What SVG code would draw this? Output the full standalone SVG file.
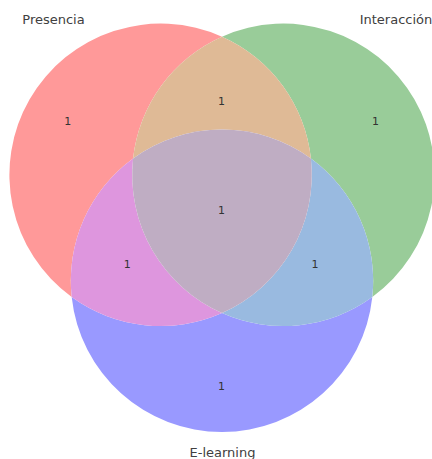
<svg xmlns="http://www.w3.org/2000/svg" width="432" height="459" viewBox="0 0 432 459">
<style>
.lbl{font-family:"DejaVu Sans","Liberation Sans",sans-serif;font-size:13px;fill:#404040;text-anchor:middle}
.num{font-family:"DejaVu Sans","Liberation Sans",sans-serif;font-size:11px;fill:#333;text-anchor:middle}
</style>
<rect width="432" height="459" fill="#ffffff"/>
<g id="regions">
<path id="A_only" fill="#ff9999" d="M222 36.63 A151.2 151.2 0 0 0 71.68 297.09 A151.2 151.2 0 0 1 133.08 158.51 A151.2 151.2 0 0 1 222 36.63 Z"/>
<path id="B_only" fill="#99cc99" d="M222 36.63 A151.2 151.2 0 0 1 372.32 297.09 A151.2 151.2 0 0 0 310.92 158.51 A151.2 151.2 0 0 0 222 36.63 Z"/>
<path id="C_only" fill="#9999ff" d="M71.68 297.09 A151.2 151.2 0 0 0 372.32 297.09 A151.2 151.2 0 0 1 222 312.97 A151.2 151.2 0 0 1 71.68 297.09 Z"/>
<path id="AB" fill="#dfba96" d="M222 36.63 A151.2 151.2 0 0 1 310.92 158.51 A151.2 151.2 0 0 0 133.08 158.51 A151.2 151.2 0 0 1 222 36.63 Z"/>
<path id="AC" fill="#de96de" d="M71.68 297.09 A151.2 151.2 0 0 1 133.08 158.51 A151.2 151.2 0 0 0 222 312.97 A151.2 151.2 0 0 1 71.68 297.09 Z"/>
<path id="BC" fill="#99bae0" d="M310.92 158.51 A151.2 151.2 0 0 1 372.32 297.09 A151.2 151.2 0 0 1 222 312.97 A151.2 151.2 0 0 0 310.92 158.51 Z"/>
<path id="ABC" fill="#bfadc3" d="M133.08 158.51 A151.2 151.2 0 0 1 310.92 158.51 A151.2 151.2 0 0 1 222 312.97 A151.2 151.2 0 0 1 133.08 158.51 Z"/>
</g>
<g id="counts">
<text class="num" x="67.7" y="125">1</text>
<text class="num" x="375.5" y="125">1</text>
<text class="num" x="221.5" y="105">1</text>
<text class="num" x="221.5" y="213.5">1</text>
<text class="num" x="127.3" y="267.5">1</text>
<text class="num" x="315" y="267.5">1</text>
<text class="num" x="221.5" y="390">1</text>
</g>
<g id="labels">
<text class="lbl" x="53.5" y="24">Presencia</text>
<text class="lbl" x="396" y="24">Interacción</text>
<text class="lbl" x="222.5" y="457">E-learning</text>
</g>
</svg>
